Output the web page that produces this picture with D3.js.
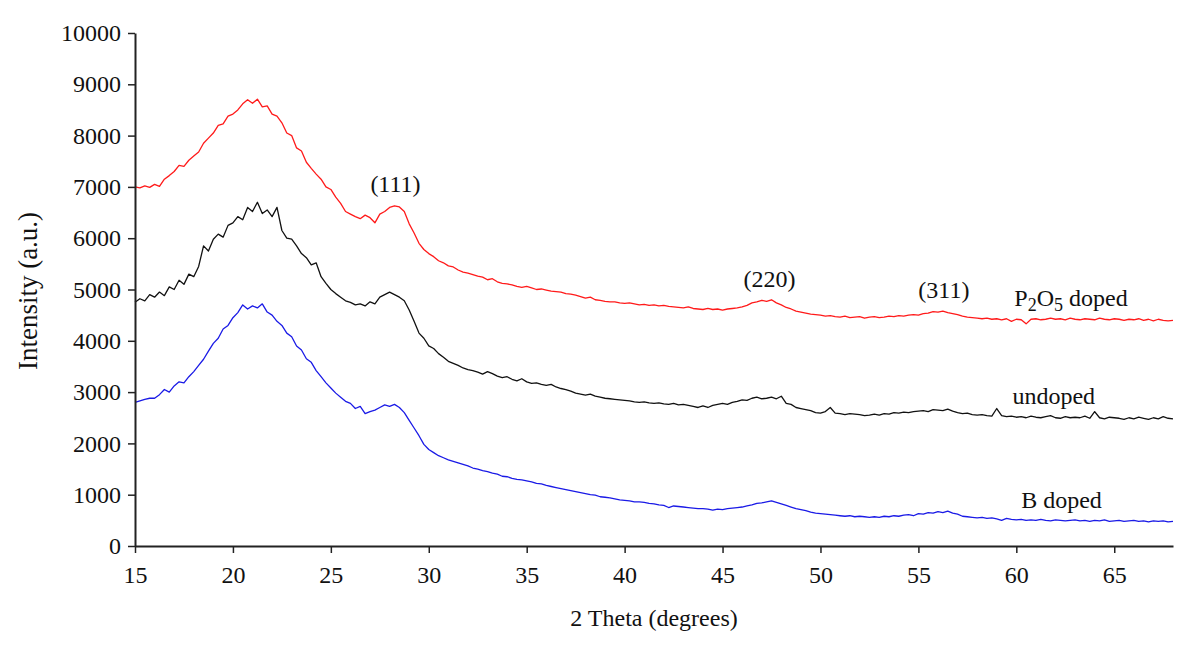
<!DOCTYPE html>
<html><head><meta charset="utf-8">
<script src="https://cdn.jsdelivr.net/npm/d3@7"></script>
<style>
body{margin:0;background:#fff}
svg text{font-family:"Liberation Serif","Times New Roman",serif;fill:#111}
</style>
</head><body>
<svg id="chart" width="1200" height="654"></svg>
<script>
// 2 Theta sampling: 15 to 68 degrees, step 0.25
const thetaStart = 15;
const thetaStep = 0.25;

const p2o5Doped = [
7000,6980,7020,6990, 7050,7010,7150,7220, 7300,7420,7400,7520, 7600,7680,7850,7950,
8050,8200,8230,8380, 8420,8500,8620,8700, 8630,8710,8560,8580, 8420,8380,8250,8050,
8000,7760,7700,7480, 7360,7250,7150,7000, 6950,6800,6680,6520, 6470,6420,6380,6450,
6400,6300,6470,6520, 6600,6630,6610,6520, 6280,6100,5900,5780, 5700,5640,5560,5520,
5460,5440,5380,5340, 5320,5290,5260,5240, 5190,5210,5150,5120, 5110,5090,5060,5040,
5060,5030,5000,5010, 4990,4970,4960,4950, 4920,4910,4890,4860, 4830,4850,4800,4790,
4770,4760,4760,4740, 4730,4740,4720,4700, 4710,4690,4700,4680, 4690,4670,4660,4650,
4640,4660,4630,4620, 4610,4630,4610,4620, 4600,4620,4630,4640, 4660,4690,4740,4760,
4790,4770,4800,4740, 4700,4650,4620,4580, 4560,4540,4520,4510, 4500,4480,4490,4470,
4460,4480,4450,4460, 4470,4440,4460,4470, 4450,4460,4480,4470, 4490,4480,4500,4510,
4500,4530,4540,4570, 4560,4580,4550,4530, 4510,4480,4460,4450, 4440,4430,4440,4420,
4430,4410,4430,4380, 4420,4410,4330,4420, 4430,4410,4420,4440, 4420,4430,4410,4440,
4420,4410,4430,4420, 4410,4440,4420,4410, 4430,4420,4400,4420, 4410,4430,4400,4420,
4390,4420,4400,4390, 4400
];

const undoped = [
4750,4820,4780,4900, 4850,4950,4880,5050, 5000,5180,5100,5300, 5250,5450,5850,5750,
5980,6080,6020,6250, 6300,6420,6360,6600, 6520,6700,6480,6550, 6420,6600,6150,6000,
5980,5850,5700,5620, 5480,5520,5250,5120, 5000,4920,4850,4780, 4750,4700,4720,4680,
4760,4720,4850,4900, 4950,4900,4850,4780, 4600,4380,4150,4050, 3900,3850,3750,3680,
3600,3560,3520,3470, 3440,3420,3390,3350, 3400,3360,3310,3280, 3300,3250,3220,3260,
3200,3170,3180,3150, 3130,3150,3100,3070, 3050,3020,2980,2960, 2940,2960,2920,2900,
2880,2870,2860,2850, 2840,2830,2810,2800, 2810,2790,2780,2790, 2770,2760,2780,2750,
2760,2740,2720,2700, 2730,2700,2740,2760, 2780,2760,2800,2820, 2850,2840,2880,2900,
2870,2880,2900,2870, 2920,2780,2760,2700, 2680,2660,2640,2600, 2590,2620,2700,2590,
2580,2560,2580,2570, 2560,2540,2550,2570, 2550,2580,2570,2600, 2590,2610,2600,2620,
2630,2640,2620,2660, 2650,2640,2670,2630, 2600,2580,2590,2560, 2550,2560,2540,2530,
2680,2540,2520,2530, 2510,2520,2500,2530, 2510,2500,2520,2540, 2500,2490,2520,2500,
2510,2500,2530,2490, 2620,2500,2480,2510, 2500,2490,2470,2500, 2480,2510,2490,2470,
2500,2480,2520,2490, 2480
];

const bDoped = [
2800,2830,2860,2880, 2880,2950,3050,3000, 3120,3200,3180,3300, 3400,3520,3640,3800,
3950,4050,4230,4300, 4450,4550,4700,4620, 4680,4640,4720,4560, 4500,4380,4300,4150,
4080,3900,3820,3650, 3580,3420,3300,3180, 3080,2980,2900,2820, 2780,2680,2720,2580,
2620,2650,2700,2750, 2720,2760,2700,2600, 2450,2300,2150,1980, 1880,1820,1760,1720,
1680,1650,1620,1590, 1560,1520,1500,1470, 1450,1420,1400,1360, 1350,1320,1300,1290,
1270,1250,1220,1210, 1180,1160,1140,1120, 1100,1080,1060,1040, 1020,1000,990,960,
950,940,920,900, 890,880,860,860, 850,830,820,800, 790,750,780,770,
760,750,740,730, 730,720,700,720, 710,730,740,750, 760,780,800,830,
840,860,880,850, 820,790,760,730, 710,690,660,640, 630,620,610,600,
590,580,590,570, 580,570,560,570, 560,580,570,590, 580,600,610,590,
630,620,650,640, 670,650,680,640, 620,580,570,560, 550,560,540,550,
530,500,540,520, 510,520,500,510, 500,520,500,490, 510,500,490,500,
510,490,500,480, 500,490,510,480, 490,500,480,490, 500,480,490,470,
490,480,490,470, 480
];

const seriesColors = ["#ff1a1a", "#111111", "#1a1ae6"];
const xTicks = [15,20,25,30,35,40,45,50,55,60,65];
const yTicks = [0,1000,2000,3000,4000,5000,6000,7000,8000,9000,10000];
const xDomain = [15, 68];
const yDomain = [0, 10000];

const peakLabels = ["(111)", "(220)", "(311)"];
const peakTheta = [28.3, 47.4, 56.3];
const peakValue = [6900, 5050, 4830];

const seriesLabelTheta = [59.9, 59.8, 60.25];
const seriesLabelValue = [4680, 2770, 740];

const xTitle = "2 Theta (degrees)";
const yTitle = "Intensity (a.u.)";

const FS = 24;
const svg = d3.select("#chart");
const x = d3.scaleLinear().domain(xDomain).range([135, 1173]);
const y = d3.scaleLinear().domain(yDomain).range([546, 33]);

const seriesList = [p2o5Doped, undoped, bDoped];
const line = d3.line()
  .x((d, i) => x(thetaStart + i * thetaStep))
  .y(d => y(d));

seriesList.forEach((s, k) => {
  svg.append("path")
    .attr("d", line(s))
    .attr("fill", "none")
    .attr("stroke", seriesColors[k])
    .attr("stroke-width", 1.3)
    .attr("stroke-linejoin", "round");
});

// axes
const yAxis = d3.axisLeft(y).tickValues(yTicks).tickSize(7).tickSizeOuter(0).tickPadding(7).tickFormat(d3.format("d"));
const xAxis = d3.axisBottom(x).tickValues(xTicks).tickSize(7).tickSizeOuter(0).tickPadding(13).tickFormat(d3.format("d"));

const gy = svg.append("g").attr("transform", "translate(135,0)").call(yAxis);
const gx = svg.append("g").attr("transform", "translate(0,546)").call(xAxis);
[gx, gy].forEach(g => {
  g.attr("font-family", null).attr("font-size", null);
  g.selectAll("path.domain").attr("stroke", "#222").attr("stroke-width", 2);
  g.selectAll(".tick line").attr("stroke", "#222").attr("stroke-width", 1.5);
  g.selectAll(".tick text").attr("font-size", FS).attr("fill", "#111")
    .style("font-family", '"Liberation Serif","Times New Roman",serif');
});

// axis titles
svg.append("text")
  .attr("x", 654).attr("y", 626)
  .attr("text-anchor", "middle")
  .attr("font-size", FS)
  .text(xTitle);

svg.append("text")
  .attr("transform", "translate(37,291) rotate(-90)")
  .attr("text-anchor", "middle")
  .attr("font-size", 27)
  .text(yTitle);

// peak labels
peakLabels.forEach((t, i) => {
  svg.append("text")
    .attr("x", x(peakTheta[i])).attr("y", y(peakValue[i]))
    .attr("text-anchor", "middle")
    .attr("font-size", FS)
    .text(t);
});

// series labels
const l0 = svg.append("text")
  .attr("x", x(seriesLabelTheta[0])).attr("y", y(seriesLabelValue[0]))
  .attr("font-size", FS);
l0.append("tspan").text("P");
l0.append("tspan").attr("font-size", 18).attr("dy", 5).text("2");
l0.append("tspan").attr("dy", -5).text("O");
l0.append("tspan").attr("font-size", 18).attr("dy", 5).text("5");
l0.append("tspan").attr("dy", -5).text(" doped");

svg.append("text")
  .attr("x", x(seriesLabelTheta[1])).attr("y", y(seriesLabelValue[1]))
  .attr("font-size", FS)
  .text("undoped");

svg.append("text")
  .attr("x", x(seriesLabelTheta[2])).attr("y", y(seriesLabelValue[2]))
  .attr("font-size", FS)
  .text("B doped");
</script>
</body></html>
